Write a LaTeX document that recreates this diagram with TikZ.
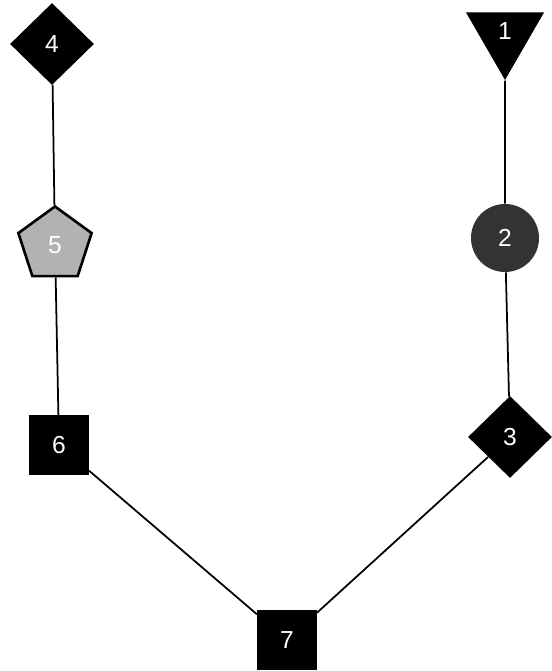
\documentclass[tikz,border=0pt]{standalone}
\usepackage{fontspec}
\setmainfont{Liberation Sans}
\usetikzlibrary{shapes.geometric}
\begin{document}
\begin{tikzpicture}[every node/.style={inner sep=0pt,text=white,font=\fontsize{14}{16}\selectfont},
  sqbox/.style={fill=black,minimum size=1.19cm},
  dmd/.style={diamond,fill=black,minimum width=1.68cm,minimum height=1.64cm},
  link/.style={black,line width=1pt}]
\useasboundingbox (0,0) rectangle (11.02,13.42);
\node[dmd] (n4) at (1.04,12.54) {4};
\node[regular polygon,regular polygon sides=3,shape border rotate=180,fill=black,minimum size=1.8cm] (n1) at (10.1,12.72) {\raisebox{4pt}{1}};
\node[regular polygon,regular polygon sides=5,fill=gray!60,draw=black,line width=1.5pt,minimum size=1.54cm] (n5) at (1.1,8.52) {5};
\node[circle,fill=black!80,minimum size=1.36cm] (n2) at (10.1,8.66) {2};
\node[sqbox] (n6) at (1.18,4.52) {6};
\node[dmd] (n3) at (10.2,4.68) {3};
\node[sqbox] (n7) at (5.74,0.62) {7};
\draw[link] (n4) -- (n5); \draw[link] (n5) -- (n6); \draw[link] (n6) -- (n7);
\draw[link] (n7) -- (n3); \draw[link] (n3) -- (n2); \draw[link] (n2) -- (n1);
\end{tikzpicture}
\end{document}
